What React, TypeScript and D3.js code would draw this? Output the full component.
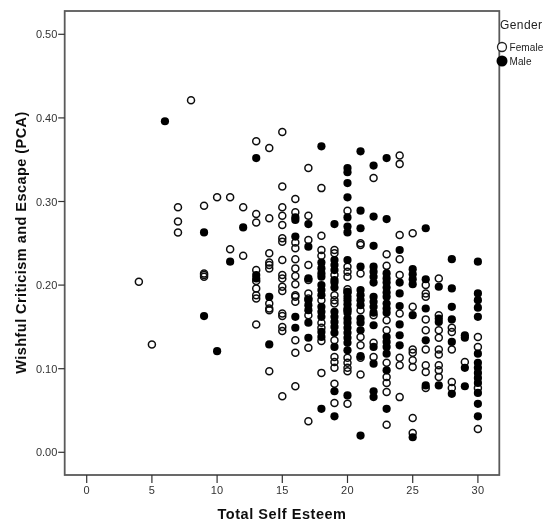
import React, { useEffect, useRef } from "react";
import * as d3 from "d3";

const xTicks = [0, 5, 10, 15, 20, 25, 30];
const yTicks = [0, 0.1, 0.2, 0.3, 0.4, 0.5];
const legendItems = ["Female", "Male"];

const femaleByScore: [number, number[]][] = [
  [4, [0.204]],
  [5, [0.129]],
  [7, [0.293, 0.276, 0.263]],
  [8, [0.421]],
  [9, [0.295, 0.214, 0.212, 0.21]],
  [10, [0.305]],
  [11, [0.305, 0.243]],
  [12, [0.293, 0.235]],
  [13, [0.372, 0.285, 0.275, 0.218, 0.205, 0.196, 0.188, 0.184, 0.153]],
  [14, [0.364, 0.28, 0.238, 0.227, 0.224, 0.22, 0.178, 0.172, 0.17, 0.097]],
  [15, [0.383, 0.318, 0.293, 0.283, 0.272, 0.256, 0.252, 0.23, 0.212, 0.208, 0.198, 0.193, 0.166, 0.163, 0.15, 0.145, 0.067]],
  [16, [0.303, 0.287, 0.251, 0.244, 0.231, 0.22, 0.211, 0.201, 0.188, 0.186, 0.18, 0.134, 0.119, 0.079]],
  [17, [0.34, 0.283, 0.254, 0.224, 0.206, 0.19, 0.184, 0.164, 0.125, 0.037]],
  [18, [0.316, 0.259, 0.242, 0.235, 0.182, 0.155, 0.149, 0.133, 0.095]],
  [19, [0.242, 0.238, 0.212, 0.188, 0.182, 0.178, 0.134, 0.114, 0.108, 0.101, 0.082, 0.059]],
  [20, [0.289, 0.222, 0.216, 0.21, 0.195, 0.191, 0.17, 0.113, 0.107, 0.101, 0.097, 0.058]],
  [21, [0.25, 0.248, 0.214, 0.17, 0.138, 0.128, 0.113, 0.093]],
  [22, [0.328, 0.164, 0.131, 0.114]],
  [23, [0.237, 0.223, 0.158, 0.146, 0.107, 0.09, 0.083, 0.072, 0.033]],
  [24, [0.355, 0.345, 0.26, 0.231, 0.212, 0.166, 0.113, 0.104, 0.066]],
  [25, [0.262, 0.174, 0.123, 0.119, 0.11, 0.102, 0.041, 0.023]],
  [26, [0.2, 0.19, 0.186, 0.159, 0.146, 0.123, 0.104, 0.096, 0.077]],
  [27, [0.208, 0.164, 0.146, 0.137, 0.123, 0.117, 0.104, 0.098, 0.09]],
  [28, [0.149, 0.144, 0.123, 0.084, 0.077]],
  [29, [0.108]],
  [30, [0.138, 0.126, 0.077, 0.028]],
];

const maleByScore: [number, number[]][] = [
  [6, [0.396]],
  [9, [0.263, 0.163]],
  [10, [0.121]],
  [11, [0.228]],
  [12, [0.269]],
  [13, [0.352, 0.212, 0.208]],
  [14, [0.186, 0.129]],
  [16, [0.281, 0.278, 0.258, 0.162, 0.149]],
  [17, [0.273, 0.246, 0.208, 0.182, 0.176, 0.17, 0.155, 0.137]],
  [18, [0.366, 0.227, 0.22, 0.214, 0.21, 0.2, 0.194, 0.188, 0.174, 0.168, 0.162, 0.144, 0.138, 0.052]],
  [19, [0.273, 0.23, 0.224, 0.218, 0.206, 0.203, 0.197, 0.168, 0.162, 0.156, 0.15, 0.143, 0.126, 0.073, 0.043]],
  [20, [0.34, 0.335, 0.322, 0.305, 0.281, 0.27, 0.263, 0.23, 0.192, 0.186, 0.182, 0.177, 0.172, 0.167, 0.16, 0.155, 0.149, 0.143, 0.137, 0.131, 0.122, 0.068]],
  [21, [0.36, 0.289, 0.268, 0.222, 0.194, 0.188, 0.182, 0.176, 0.16, 0.155, 0.146, 0.115, 0.02]],
  [22, [0.343, 0.282, 0.247, 0.222, 0.216, 0.21, 0.203, 0.186, 0.18, 0.174, 0.167, 0.152, 0.126, 0.106, 0.073, 0.066]],
  [23, [0.352, 0.279, 0.214, 0.208, 0.203, 0.197, 0.191, 0.186, 0.178, 0.172, 0.167, 0.138, 0.132, 0.126, 0.118, 0.098, 0.052]],
  [24, [0.242, 0.203, 0.19, 0.175, 0.153, 0.14, 0.128]],
  [25, [0.219, 0.213, 0.207, 0.201, 0.164, 0.018]],
  [26, [0.268, 0.207, 0.172, 0.134, 0.08]],
  [27, [0.198, 0.16, 0.156, 0.08]],
  [28, [0.231, 0.196, 0.174, 0.159, 0.132, 0.07]],
  [29, [0.14, 0.137, 0.101, 0.079]],
  [30, [0.228, 0.19, 0.182, 0.173, 0.162, 0.118, 0.107, 0.101, 0.095, 0.089, 0.083, 0.071, 0.058, 0.043]],
];

const W = 544;
const H = 525;
const frame = { left: 64.7, right: 499.3, top: 11, bottom: 475 };
const FONT = "'Liberation Sans', Arial, sans-serif";

export default function App() {
  const ref = useRef<SVGSVGElement>(null);

  useEffect(() => {
    const svg = d3.select(ref.current);
    svg.selectAll("*").remove();

    const x = d3.scaleLinear().domain([0, 30]).range([86.7, 477.9]);
    const y = d3.scaleLinear().domain([0, 0.5]).range([452.3, 34.3]);

    svg
      .append("defs")
      .append("filter")
      .attr("id", "soft")
      .attr("x", "-5%")
      .attr("y", "-5%")
      .attr("width", "110%")
      .attr("height", "110%")
      .append("feGaussianBlur")
      .attr("stdDeviation", 0.4);

    const root = svg.append("g").attr("filter", "url(#soft)");

    root
      .append("rect")
      .attr("x", frame.left)
      .attr("y", frame.top)
      .attr("width", frame.right - frame.left)
      .attr("height", frame.bottom - frame.top)
      .attr("fill", "none")
      .attr("stroke", "#5a5a5a")
      .attr("stroke-width", 1.8);

    const flat = (rows: [number, number[]][]) =>
      rows.flatMap(([s, vs]) => vs.map((v) => [s, v] as [number, number]));

    root
      .append("g")
      .selectAll("circle")
      .data(flat(femaleByScore))
      .join("circle")
      .attr("cx", (d) => x(d[0]))
      .attr("cy", (d) => y(d[1]))
      .attr("r", 3.5)
      .attr("fill", "none")
      .attr("stroke", "#111")
      .attr("stroke-width", 1.5);

    root
      .append("g")
      .selectAll("circle")
      .data(flat(maleByScore))
      .join("circle")
      .attr("cx", (d) => x(d[0]))
      .attr("cy", (d) => y(d[1]))
      .attr("r", 4.1)
      .attr("fill", "#000");

    // Axes
    const xAxis = root.append("g").attr("font-family", FONT);
    xTicks.forEach((t) => {
      xAxis
        .append("line")
        .attr("x1", x(t))
        .attr("x2", x(t))
        .attr("y1", frame.bottom)
        .attr("y2", frame.bottom + 8)
        .attr("stroke", "#333")
        .attr("stroke-width", 1.2);
      xAxis
        .append("text")
        .attr("x", x(t))
        .attr("y", 494)
        .attr("text-anchor", "middle")
        .attr("font-size", 11)
        .attr("letter-spacing", 0.3)
        .attr("fill", "#333")
        .text(String(t));
    });

    const yAxis = root.append("g").attr("font-family", FONT);
    yTicks.forEach((t) => {
      yAxis
        .append("line")
        .attr("x1", frame.left - 6.5)
        .attr("x2", frame.left)
        .attr("y1", y(t))
        .attr("y2", y(t))
        .attr("stroke", "#333")
        .attr("stroke-width", 1.2);
      yAxis
        .append("text")
        .attr("x", 57.3)
        .attr("y", y(t) + 4)
        .attr("text-anchor", "end")
        .attr("font-size", 11)
        .attr("fill", "#333")
        .text(d3.format(".2f")(t));
    });

    root
      .append("text")
      .attr("x", 282)
      .attr("y", 519)
      .attr("text-anchor", "middle")
      .attr("font-family", FONT)
      .attr("font-weight", "bold")
      .attr("font-size", 14.5)
      .attr("letter-spacing", 0.55)
      .attr("fill", "#111")
      .text("Total Self Esteem");

    root
      .append("text")
      .attr("transform", "translate(25.7,242.5) rotate(-90)")
      .attr("text-anchor", "middle")
      .attr("font-family", FONT)
      .attr("font-weight", "bold")
      .attr("font-size", 14.5)
      .attr("letter-spacing", 0.45)
      .attr("fill", "#111")
      .text("Wishful Criticism and Escape (PCA)");

    // Legend
    root
      .append("text")
      .attr("x", 500)
      .attr("y", 29)
      .attr("font-family", FONT)
      .attr("font-size", 12)
      .attr("letter-spacing", 0.4)
      .attr("fill", "#222")
      .text("Gender");
    legendItems.forEach((name, i) => {
      const cy = 47 + i * 14;
      root
        .append("circle")
        .attr("cx", 502)
        .attr("cy", cy)
        .attr("r", i === 0 ? 4.5 : 5.5)
        .attr("fill", i === 0 ? "#fff" : "#000")
        .attr("stroke", i === 0 ? "#222" : "none")
        .attr("stroke-width", 1.3);
      root
        .append("text")
        .attr("x", 509.5)
        .attr("y", cy + 3.8)
        .attr("font-family", FONT)
        .attr("font-size", 10)
        .attr("letter-spacing", 0.1)
        .attr("fill", "#222")
        .text(name);
    });
  }, []);

  return (
    <svg
      ref={ref}
      width={W}
      height={H}
      style={{ position: "absolute", left: 0, top: 0, background: "#fff" }}
    />
  );
}
